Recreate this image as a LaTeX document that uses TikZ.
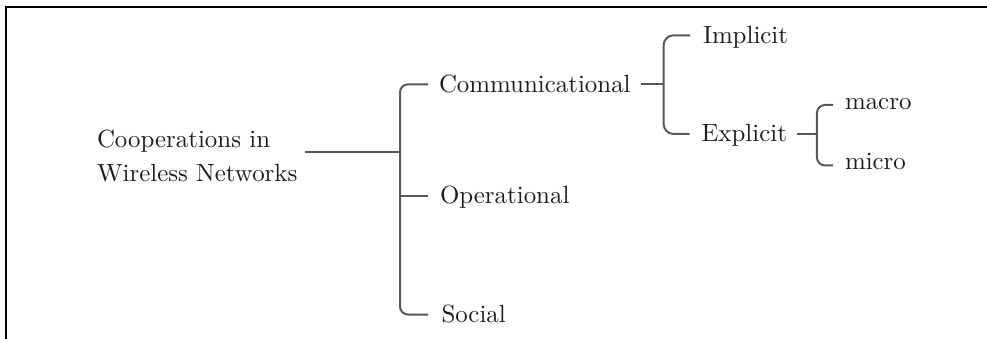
\documentclass[tikz,border=0pt]{standalone}
\usepackage{fontspec}
\setmainfont{lmroman10-regular.otf}
\definecolor{linegray}{RGB}{88,88,88}
\definecolor{inkcol}{RGB}{28,28,28}
\begin{document}
\begin{tikzpicture}[x=1pt,y=-1pt,
  txt/.style={inner sep=0pt, outer sep=0pt, anchor=base west, text=inkcol,
    font=\fontsize{24.9}{34}\selectfont},
  capword/.style={txt, text height=16pt, text depth=0pt},
  lowword/.style={txt, text height=9pt, text depth=0pt},
  branch/.style={draw=linegray, line width=2pt, rounded corners=8pt},
  frameline/.style={draw=black, line width=2pt}]
\useasboundingbox (0,0) rectangle (987,339);

% open frame: left and top edges
\draw[frameline] (5.7,339) -- (5.7,7.5) -- (987,7.5);

% labels (the base of a two-line node sits on its last line)
\node[txt, align=left] (root) at (97,182) {Cooperations in\\Wireless Networks};
\node[capword] (com) at (439,92.3) {Communicational};
\node[capword] (op)  at (440,204)  {Operational};
\node[capword] (soc) at (441.5,322.5) {Social};
\node[capword] (imp) at (703,43.3) {Implicit};
\node[capword] (exp) at (701.5,142) {Explicit};
\node[lowword] (mac) at (845,109.5) {macro};
\node[lowword] (mic) at (845,170) {micro};

% first level
\coordinate (j1) at (400,152);
\draw[branch, shorten <=8pt] (root.east |- j1) -- (j1);
\draw[branch, shorten <=11pt, shorten >=13.5pt] (com.west) -| (j1) |- (soc.west);
\draw[branch, shorten >=12pt] (j1 |- op.west) -- (op.west);

% second level
\path (com.east) ++(33,0) coordinate (j2);
\draw[branch, shorten <=10pt] (com.east) -- (j2);
\draw[branch, rounded corners=10pt, shorten <=13pt, shorten >=12pt] (imp.west) -| (j2) |- (exp.west);

% third level
\path (exp.east) ++(30,0) coordinate (j3);
\draw[branch, shorten <=10pt] (exp.east) -- (j3);
\draw[branch, shorten <=12pt, shorten >=12pt] (mac.west) -| (j3) |- (mic.west);
\end{tikzpicture}
\end{document}
